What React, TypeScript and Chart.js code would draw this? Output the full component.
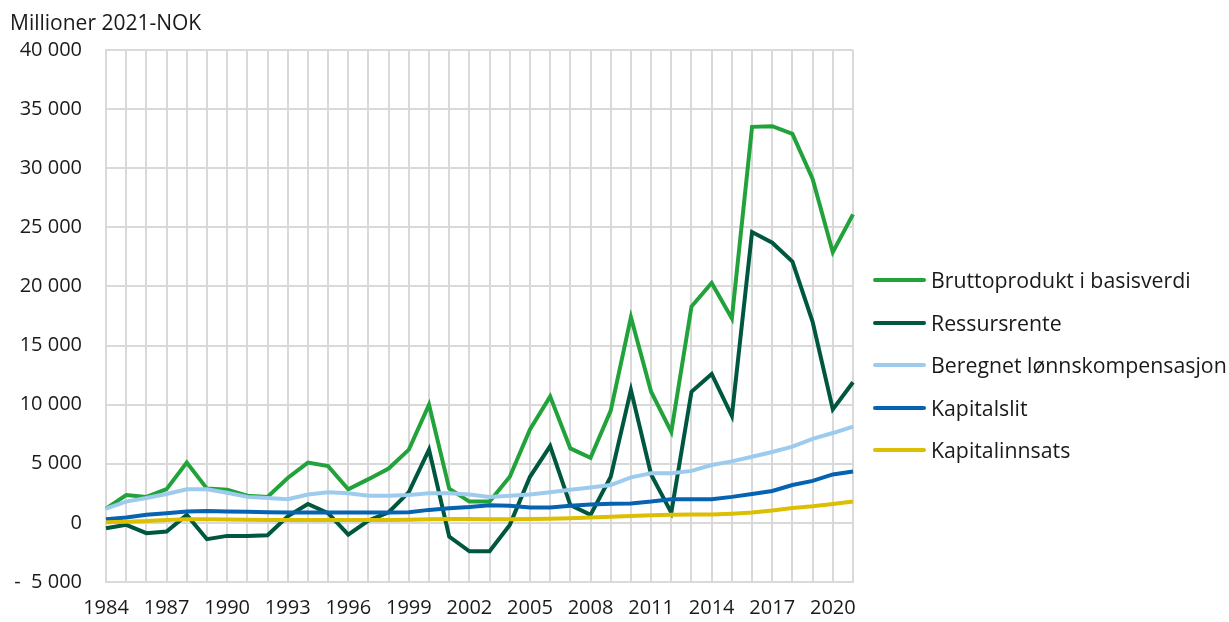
import React, { useEffect, useRef } from "react";
import { Chart, registerables } from "chart.js";

Chart.register(...registerables);

const years: string[] = [];
for (let y = 1984; y <= 2021; y++) years.push(String(y));

const brutto = [1200, 2350, 2200, 2850, 5100, 2900, 2800, 2300, 2200, 3800, 5100, 4800, 2850, 3700, 4600, 6200, 10000, 2900, 1800, 1800, 3900, 7900, 10700, 6300, 5500, 9500, 17400, 11100, 7700, 18300, 20300, 17300, 33500, 33550, 32900, 29100, 22900, 26100];
const ressursrente = [-450, -170, -870, -730, 680, -1380, -1100, -1100, -1050, 550, 1600, 820, -1000, 200, 900, 2600, 6200, -1160, -2400, -2400, -170, 3900, 6500, 1500, 680, 3900, 11250, 4100, 870, 11100, 12600, 9050, 24600, 23700, 22100, 17000, 9600, 11900];
const lonn = [1200, 1800, 2100, 2450, 2850, 2850, 2550, 2200, 2100, 2000, 2400, 2600, 2500, 2300, 2300, 2350, 2500, 2500, 2400, 2200, 2300, 2400, 2600, 2800, 3000, 3200, 3850, 4200, 4200, 4400, 4900, 5200, 5600, 6000, 6450, 7100, 7600, 8150];
const kapitalslit = [300, 450, 680, 820, 960, 1000, 960, 950, 900, 880, 880, 880, 880, 870, 870, 900, 1100, 1240, 1350, 1500, 1450, 1300, 1300, 1450, 1550, 1620, 1650, 1800, 2000, 2000, 2000, 2200, 2450, 2700, 3200, 3550, 4100, 4350];
const kapitalinnsats = [50, 100, 150, 250, 300, 300, 280, 260, 250, 250, 250, 250, 240, 250, 250, 270, 300, 320, 320, 300, 300, 320, 350, 400, 450, 520, 580, 650, 680, 700, 720, 780, 870, 1050, 1250, 1400, 1600, 1800];

const seriesNames = ["Bruttoprodukt i basisverdi", "Ressursrente", "Beregnet lønnskompensasjon", "Kapitalslit", "Kapitalinnsats"];
const seriesColors = ["#22a23a", "#00573f", "#9dcbee", "#0563b1", "#dcbf00"];
const seriesData = [brutto, ressursrente, lonn, kapitalslit, kapitalinnsats];

const FONT = "'Open Sans', 'Noto Sans', sans-serif";
const TEXT = "#1a1a1a";

function fmt(v: number): string {
  const a = Math.abs(v);
  const s = String(Math.round(a)).replace(/\B(?=(\d{3})+(?!\d))/g, " ");
  return v < 0 ? "-  " + s : s;
}

export default function App() {
  const ref = useRef<HTMLCanvasElement>(null);
  useEffect(() => {
    if (!ref.current) return;
    const chart = new Chart(ref.current, {
      type: "line",
      data: {
        labels: years,
        datasets: seriesNames.map((n, i) => ({
          label: n,
          data: seriesData[i],
          borderColor: seriesColors[i],
          backgroundColor: seriesColors[i],
          borderWidth: 4,
          pointRadius: 0,
          tension: 0,
          order: 4 - i,
        })),
      },
      options: {
        animation: false,
        responsive: false,
        maintainAspectRatio: false,
        layout: { padding: { left: 0, right: 376, top: 50, bottom: 0 } },
        plugins: { legend: { display: false }, tooltip: { enabled: false } },
        scales: {
          x: {
            type: "category",
            offset: false,
            grid: { color: "#d9d9d9", lineWidth: 2, drawTicks: false },
            border: { color: "#d9d9d9", width: 2 },
            ticks: {
              autoSkip: false,
              maxRotation: 0,
              minRotation: 0,
              padding: 14,
              color: TEXT,
              font: { family: FONT, size: 20 },
              callback: (_v: any, i: number) => (i % 3 === 0 ? years[i] : ""),
            },
            afterFit: (s: any) => {
              s.height = 40;
            },
          },
          y: {
            min: -5000,
            max: 40000,
            grid: { color: "#d9d9d9", lineWidth: 2, drawTicks: false },
            border: { color: "#d9d9d9", width: 2 },
            ticks: {
              stepSize: 5000,
              padding: 24,
              color: TEXT,
              font: { family: FONT, size: 20 },
              callback: (v: any) => fmt(Number(v)),
            },
            afterFit: (s: any) => {
              s.width = 106;
            },
          },
        },
      },
    });
    return () => chart.destroy();
  }, []);

  const legendTop = [280, 323, 365, 408, 450];
  return (
    <div style={{ position: "fixed", left: 0, top: 0, width: 1229, height: 622, background: "#fff", fontFamily: FONT, color: TEXT }}>
      <canvas ref={ref} width={1229} height={622} style={{ position: "absolute", left: 0, top: 0 }} />
      <div style={{ position: "absolute", left: 10, top: 8, fontSize: 21, lineHeight: "28px", whiteSpace: "nowrap" }}>Millioner 2021-NOK</div>
      {seriesNames.map((n, i) => (
        <div key={n} style={{ position: "absolute", left: 873, top: legendTop[i] - 15, height: 30, display: "flex", alignItems: "center", whiteSpace: "nowrap" }}>
          <span style={{ display: "inline-block", width: 53, height: 4, borderRadius: 2, background: seriesColors[i], marginRight: 5 }} />
          <span style={{ fontSize: 21.3, lineHeight: "30px" }}>{n}</span>
        </div>
      ))}
    </div>
  );
}
